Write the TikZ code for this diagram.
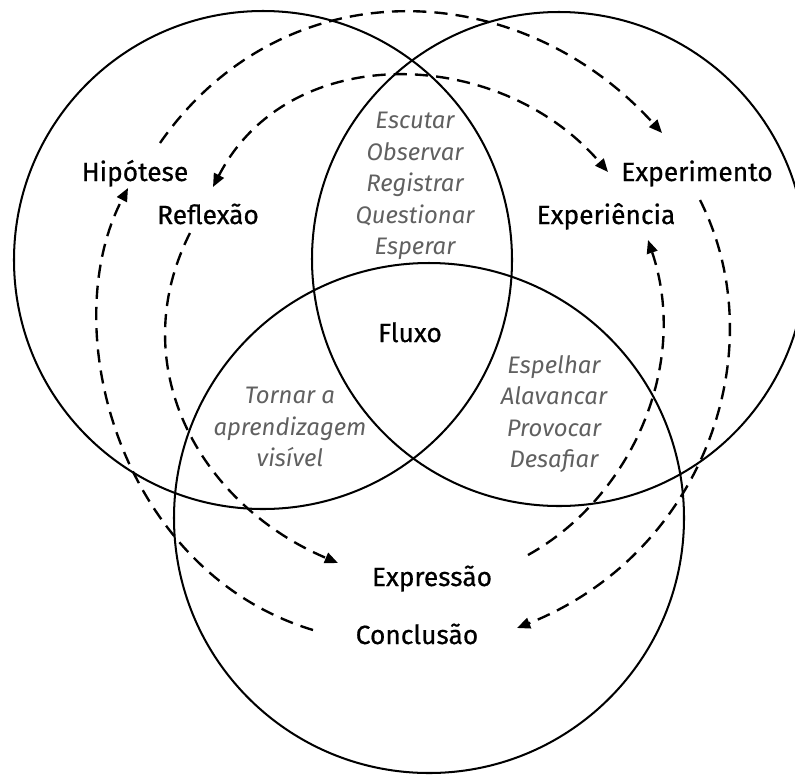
\documentclass[tikz,border=0pt]{standalone}
\usepackage{fontspec}
\setmainfont{Fira Sans}
\newfontface\labfont[FakeBold=0.6]{Fira Sans}
\usetikzlibrary{arrows.meta}
\definecolor{itgray}{HTML}{606060}
\tikzset{
  circ/.style={line width=1.15pt, draw=black},
  lab/.style={font=\labfont\fontsize{15}{18}\selectfont, inner sep=0pt, anchor=base},
  ital/.style={font=\fontsize{13.6}{17.9}\selectfont\itshape, text=itgray, align=center, inner sep=0pt},
  tip/.tip={Triangle[length=7.5pt,width=6.2pt]},
  flow/.style={line width=1.35pt, dash pattern=on 7.5pt off 4.6pt, -tip},
}
\begin{document}
\begin{tikzpicture}[x=0.02cm,y=-0.02cm]
\useasboundingbox (0,0) rectangle (795,778);
\begin{scope}
\clip (0,0) rectangle (795,778);
\draw[circ] (263,260) circle[radius=249];
\draw[circ] (559,259) circle[radius=247];
\draw[circ] (429,518) circle[radius=255];
\end{scope}

\node[lab] (hip) at (135,181) {Hipótese};
\node[lab] (ref) at (208,224) {Reflexão};
\node[lab] (exm) at (697,181) {Experimento};
\node[lab] (exc) at (606,224) {Experiência};
\node[lab] (flu) at (410,342) {Fluxo};
\node[lab] (exp) at (432,586) {Expressão};
\node[lab] (con) at (417,644) {Conclusão};

\node[ital] (l1) at (415,186) {Escutar\\Observar\\Registrar\\Questionar\\Esperar};
\node[ital] (l2) at (554,414) {Espelhar\\Alavancar\\Provocar\\Desafiar};
\node[ital] (l3) at (290,427) {Tornar a\\aprendizagem\\visível};

\coordinate (h1) at (160,143);
\coordinate (x1) at (662,133);
\coordinate (r1) at (213,187);
\coordinate (x2) at (608,172);
\coordinate (e1) at (700,200);
\coordinate (c1) at (517,628);
\coordinate (p1) at (528,555);
\coordinate (e2) at (648,240);
\coordinate (c2) at (313,630);
\coordinate (h2) at (128,188);
\coordinate (r2) at (190,233);
\coordinate (p2) at (338,563);

\draw[flow] (h1) .. controls (283,-33) and (518,-26) .. (x1);
\draw[flow, tip-tip] (r1) .. controls (289,39) and (500,46) .. (x2);
\draw[flow] (e1) .. controls (776,351) and (703,554) .. (c1);
\draw[flow] (p1) .. controls (632,497) and (690,364) .. (e2);
\draw[flow] (c2) .. controls (121,572) and (54,330) .. (h2);
\draw[flow] (r2) .. controls (122.5,366.5) and (200,504.5) .. (p2);
\end{tikzpicture}
\end{document}
